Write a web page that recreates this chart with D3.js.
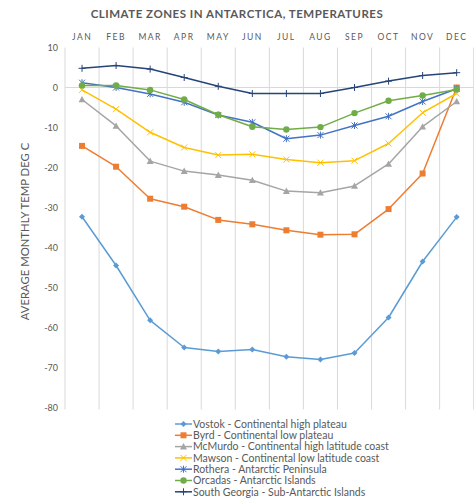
<!DOCTYPE html>
<html><head><meta charset="utf-8">
<script src="https://cdn.jsdelivr.net/npm/d3@7"></script>
<style>
html,body{margin:0;padding:0;background:#fff;}
svg{display:block;font-family:Lato,"Open Sans",sans-serif;}
</style></head>
<body>
<svg id="chart" width="474" height="504"></svg>
<script>
const months = ["JAN","FEB","MAR","APR","MAY","JUN","JUL","AUG","SEP","OCT","NOV","DEC"];
const yTicks = [10,0,-10,-20,-30,-40,-50,-60,-70,-80];
const yTickLabels = ["10","0","-10","-20","-30","-40","-50","-60","-70","-80"];
const seriesNames = [
  "Vostok - Continental high plateau",
  "Byrd - Continental low plateau",
  "McMurdo - Continental high latitude coast",
  "Mawson - Continental low latitude coast",
  "Rothera - Antarctic Peninsula",
  "Orcadas - Antarctic Islands",
  "South Georgia - Sub-Antarctic Islands"
];
const vostok   = [-32.3,-44.5,-58.2,-65.0,-66.0,-65.5,-67.3,-68.0,-66.4,-57.5,-43.5,-32.4];
const byrd     = [-14.6,-19.8,-27.8,-29.8,-33.1,-34.2,-35.7,-36.8,-36.7,-30.4,-21.5,0.0];
const mcmurdo  = [-3.0,-9.6,-18.4,-20.9,-21.9,-23.2,-25.9,-26.3,-24.6,-19.1,-9.8,-3.5];
const mawson   = [-0.6,-5.4,-11.2,-15.0,-16.9,-16.7,-18.0,-18.8,-18.3,-14.0,-6.3,-1.5];
const rothera  = [1.2,0.0,-1.6,-3.7,-6.9,-8.7,-12.8,-11.9,-9.5,-7.2,-3.5,-0.3];
const orcadas  = [0.5,0.5,-0.6,-3.0,-6.8,-9.8,-10.5,-9.9,-6.4,-3.3,-2.0,-0.5];
const southGeorgia = [4.8,5.5,4.6,2.5,0.3,-1.5,-1.5,-1.5,0.0,1.6,3.0,3.7];
const seriesValues = [vostok, byrd, mcmurdo, mawson, rothera, orcadas, southGeorgia];
const colors = ["#5b9bd5","#ed7d31","#a5a5a5","#ffc000","#4472c4","#70ad47","#264478"];
const markers = ["diamond","square","triangle","x","star","circle","plus"];

const svg = d3.select("#chart");
const pLeft = 65, pRight = 473.7, pTop = 47.5, pBottom = 407.5;

const x = d3.scaleBand().domain(months).range([pLeft, pRight]);
const y = d3.scaleLinear().domain([-80, 10]).range([pBottom, pTop]);
const cx = m => x(m) + x.bandwidth() / 2;

// title
svg.append("text").attr("x", 237).attr("y", 18).attr("text-anchor", "middle")
  .attr("font-size", 11.5).attr("font-weight", "bold").attr("fill", "#595959")
  .attr("letter-spacing", 0.5).text("CLIMATE ZONES IN ANTARCTICA, TEMPERATURES");

// vertical gridlines at band boundaries
const bounds = months.map(m => x(m)).concat([x(months[months.length-1]) + x.bandwidth()]);
svg.append("g").selectAll("line").data(bounds).join("line")
  .attr("x1", d => d).attr("x2", d => d)
  .attr("y1", pTop).attr("y2", pBottom + 2)
  .attr("stroke", "#d9d9d9").attr("stroke-width", 1);

// zero line
svg.append("line").attr("x1", pLeft).attr("x2", pRight)
  .attr("y1", y(0)).attr("y2", y(0)).attr("stroke", "#d9d9d9").attr("stroke-width", 1);

// x axis (top)
const xAxis = svg.append("g").attr("transform", `translate(0,${pTop - 8})`)
  .call(d3.axisTop(x).tickSize(0).tickPadding(0));
xAxis.select(".domain").remove();
xAxis.selectAll("text").attr("font-size", 8.5).attr("fill", "#595959")
  .attr("letter-spacing", 1.5).attr("font-family", "Lato, sans-serif");

// y axis
const yAxis = svg.append("g").attr("transform", `translate(${pLeft - 7},0)`)
  .call(d3.axisLeft(y).tickValues(yTicks).tickSize(0).tickPadding(0)
    .tickFormat((d, i) => yTickLabels[i]));
yAxis.select(".domain").remove();
yAxis.selectAll("text").attr("font-size", 9).attr("fill", "#595959")
  .attr("font-family", "Lato, sans-serif");

// y axis title
svg.append("text").attr("transform", `translate(29,${(pTop + pBottom) / 2 + 4}) rotate(-90)`)
  .attr("text-anchor", "middle").attr("font-size", 11.3).attr("fill", "#595959")
  .text("AVERAGE MONTHLY TEMP DEG C");

function drawMarker(g, type, color, px, py) {
  const s = 3;
  if (type === "diamond") {
    g.append("path").attr("d", `M${px},${py-s}L${px+s},${py}L${px},${py+s}L${px-s},${py}Z`).attr("fill", color);
  } else if (type === "square") {
    g.append("rect").attr("x", px-3).attr("y", py-3).attr("width", 6).attr("height", 6).attr("fill", color);
  } else if (type === "triangle") {
    g.append("path").attr("d", `M${px},${py-3.5}L${px+3.5},${py+2.8}L${px-3.5},${py+2.8}Z`).attr("fill", color);
  } else if (type === "circle") {
    g.append("circle").attr("cx", px).attr("cy", py).attr("r", 3.2).attr("fill", color);
  } else if (type === "x") {
    g.append("path").attr("d", `M${px-3},${py-3}L${px+3},${py+3}M${px-3},${py+3}L${px+3},${py-3}`)
      .attr("stroke", color).attr("stroke-width", 1);
  } else if (type === "star") {
    g.append("path").attr("d", `M${px-3},${py-3}L${px+3},${py+3}M${px-3},${py+3}L${px+3},${py-3}M${px},${py-3.5}L${px},${py+3.5}`)
      .attr("stroke", color).attr("stroke-width", 1);
  } else if (type === "plus") {
    g.append("path").attr("d", `M${px},${py-3.5}L${px},${py+3.5}M${px-3.5},${py}L${px+3.5},${py}`)
      .attr("stroke", color).attr("stroke-width", 1);
  }
}

const line = d3.line().x((d, i) => cx(months[i])).y(d => y(d));
seriesValues.forEach((vals, si) => {
  const g = svg.append("g");
  g.append("path").datum(vals).attr("d", line).attr("fill", "none")
    .attr("stroke", colors[si]).attr("stroke-width", 1.5).attr("stroke-linejoin", "round");
  vals.forEach((v, i) => drawMarker(g, markers[si], colors[si], cx(months[i]), y(v)));
});

// legend
const legend = svg.append("g");
seriesNames.forEach((name, i) => {
  const ly = 424 + i * 11.3;
  legend.append("line").attr("x1", 175).attr("x2", 192).attr("y1", ly).attr("y2", ly)
    .attr("stroke", colors[i]).attr("stroke-width", 1.5);
  drawMarker(legend, markers[i], colors[i], 183.5, ly);
  legend.append("text").attr("x", 193).attr("y", ly + 3.8).attr("font-size", 10.5)
    .attr("fill", "#595959").text(name);
});
</script>
</body></html>
